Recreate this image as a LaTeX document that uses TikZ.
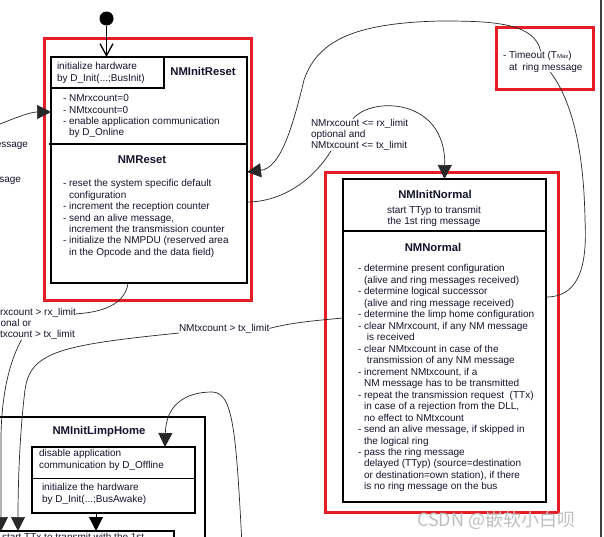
\documentclass[tikz,border=0pt]{standalone}
\usepackage{fontspec}
\setmainfont{Liberation Sans}
\newfontfamily\cjkf{Noto Sans CJK SC}
\usetikzlibrary{arrows.meta,calc}
\definecolor{txt}{RGB}{20,20,45}
\definecolor{redb}{RGB}{232,28,36}
\definecolor{wire}{RGB}{40,40,40}
\newcommand{\indt}{\hphantom{- }}
\begin{document}
\begin{tikzpicture}[x=1pt,y=-1pt,
  every node/.style={inner sep=0pt, outer sep=0pt, text=txt},
  body/.style={font=\fontsize{10}{11.4}\selectfont, align=left, anchor=north west},
  ttl/.style={font=\fontsize{11.3}{13}\selectfont\bfseries, anchor=base},
  stbox/.style={draw=black, line width=2pt, anchor=north west},
  thinbox/.style={draw=black, line width=1.2pt, anchor=north west},
  redbox/.style={draw=redb, line width=3pt},
  wirel/.style={draw=wire, line width=0.7pt},
  tri/.style={-{Triangle[length=14pt,width=14pt]}},
]
\useasboundingbox (0,0) rectangle (604,536);
\clip (0,0) rectangle (604,536);
\fill[white] (0,0) rectangle (604,536);

% page edge
\draw[black!75, line width=1.5pt] (601,-5) -- (601,545);

% ---------- NMInitReset / NMReset ----------
\draw[redbox] (44.5,38.5) rectangle (251,300);
\node[stbox, minimum width=196, minimum height=226] (nir) at (51,57) {};
\node[stbox, minimum width=113, minimum height=31] (hw) at (51,57) {};
\draw[line width=2pt] ([xshift=-2pt,yshift=-87pt]nir.north west) -- ([yshift=-87pt]nir.north east);
\node[body] (hwt) at (57,62.7) {initialize hardware\\by D\_Init(...;BusInit)};
\node[ttl] (nirt) at (203,75) {NMInitReset};
\node[body] (nirl) at (63,94.8) {- NMrxcount=0\\- NMtxcount=0\\- enable application communication\\\indt by D\_Online};
\node[ttl] (nrt) at (142,163) {NMReset};
\node[body] (nrl) at (63,179.7) {- reset the system specific default\\\indt configuration\\- increment the reception counter\\- send an alive message,\\\indt increment the transmission counter\\- initialize the NMPDU (reserved area\\\indt in the Opcode and the data field)};

% start
\node[circle, fill=black, minimum size=14pt] (start) at (106.5,18.5) {};
\draw[line width=1pt, -{Straight Barb[length=12pt,width=13pt,line width=1.3pt]}] (start) -- (start |- nir.north);

% ---------- Timeout label ----------
\node[redbox, minimum width=97, minimum height=62, anchor=north west] (tbox) at (496,27) {};
\node[body] (tmo) at (503,51.5) {- Timeout (T{\fontsize{6}{6}\selectfont Max})\\\indt at\hspace{5pt}ring message};

% ---------- NMInitNormal / NMNormal ----------
\draw[redbox] (325,172) rectangle (558,512);
\node[stbox, minimum width=203, minimum height=323] (nn) at (343,179) {};
\draw[line width=2pt] ([yshift=-52pt]nn.north west) -- ([yshift=-52pt]nn.north east);
\node[ttl] (nnt) at (435,198) {NMInitNormal};
\node[font=\fontsize{10}{11.6}\selectfont, align=center, anchor=north] (nns) at (434,205.8) {start TTyp to transmit\\the 1st ring message};
\node[ttl] (nnn) at (433,251) {NMNormal};
\node[body, font=\fontsize{10}{11.47}\selectfont] (nnl) at (358,264.7) {- determine present configuration\\\indt(alive and ring messages received)\\- determine logical successor\\\indt(alive and ring message received)\\- determine the limp home configuration\\- clear NMrxcount, if any NM message\\\indt\ is received\\- clear NMtxcount in case of the\\\indt\ transmission of any NM message\\- increment NMtxcount, if a\\\indt NM message has to be transmitted\\- repeat the transmission request\ \ (TTx)\\\indt in case of a rejection from the DLL,\\\indt no effect to NMtxcount\\- send an alive message, if skipped in\\\indt the logical ring\\- pass the ring message\\\indt delayed (TTyp) (source=destination\\\indt or destination=own station), if there\\\indt is no ring message on the bus};

% ---------- NMInitLimpHome ----------
\node[stbox, minimum width=215, minimum height=135] (lh) at (-10,417) {};
\node[ttl] (lht) at (99,434) {NMInitLimpHome};
\node[thinbox, minimum width=163, minimum height=66] (lhi) at (32,447) {};
\draw[line width=1pt] ([yshift=-31pt]lhi.north west) -- ([yshift=-31pt]lhi.north east);
\node[body] (lh1) at (39,449.7) {disable application\\communication by D\_Offline};
\node[body] (lh2) at (42,483.7) {initialize the hardware\\by D\_Init(...;BusAwake)};
\node[thinbox, minimum width=184, minimum height=30] (tt) at (-10,531) {};
\node[body] (ttt) at (2,533.5) {start TTx to transmit with the 1st};
\draw[line width=1pt, tri] ([xshift=64pt]lhi.south west) -- ([xshift=106pt]tt.north west);

% ---------- labels ----------
\node[body] (lbl1) at (311,118.8) {NMrxcount <= rx\_limit\\optional and\\NMtxcount <= tx\_limit};
\node[body] (lbl2) at (179,323.8) {NMtxcount > tx\_limit};
\node[body] (lbl3) at (-15.5,307.8) {NMrxcount > rx\_limit\\optional or\\NMtxcount > tx\_limit};
\node[font=\fontsize{10}{11.4}\selectfont, anchor=base east] (m1) at (28,147) {message};
\node[font=\fontsize{10}{11.4}\selectfont, anchor=base east] (m2) at (21,182) {message};

% ---------- connectors ----------
\coordinate (lin) at (-5,126);
\draw[wirel, tri] (lin) .. controls (15,118) and (30,112) .. ([yshift=-55pt]nir.north west);

% timeout transition
\draw[wirel] ([yshift=-118pt]nn.north east) .. controls (582,297) and (587,260) .. (585,220)
   .. controls (584,160) and (575,105) .. (tmo);
\draw[wirel, tri] (tmo) .. controls (535,22) and (490,21) .. (440,21)
   .. controls (360,23) and (318,38) .. (304,80)
   .. controls (292,130) and (280,168) .. ([yshift=-115pt]nir.north east);

% NMReset -> NMInitNormal
\draw[wirel] ([yshift=-145pt]nir.north east) .. controls (280,202) and (312,182) .. ([xshift=20pt]lbl1.south west);
\draw[wirel, tri] ([xshift=42pt]lbl1.north west) .. controls (372,96) and (446,98) .. (nn.north);

% NMNormal -> limp home (tx limit)
\draw[wirel] ([yshift=-139pt]nn.north west) .. controls (310,321) and (290,323) .. (lbl2.east);
\draw[wirel, tri] (lbl2.south west) .. controls (60,345) and (30,352) .. (25,390)
   .. controls (20,430) and (18,480) .. ([xshift=28pt]tt.north west);

% NMReset -> limp home (rx/tx limit)
\draw[wirel] ([xshift=77pt]nir.south west) .. controls (126,300) and (110,312) .. ([yshift=-6pt]lbl3.north east);
\draw[wirel, tri] ([xshift=37pt]lbl3.south west) .. controls (10,360) and (1,395) .. (1,440) -- ([xshift=11pt]tt.north west);

% into NMInitLimpHome
\coordinate (bot) at (242,545);
\draw[wirel, tri] (bot) .. controls (236,430) and (233,392) .. (212,392)
   .. controls (185,392) and (166,405) .. ([xshift=133pt]lhi.north west);

% watermark
\node[font=\cjkf\fontsize{18}{18}\selectfont, text=black!25, anchor=base west] (wm) at (417,526) {CSDN @嵌软小白呗};
\end{tikzpicture}
\end{document}
